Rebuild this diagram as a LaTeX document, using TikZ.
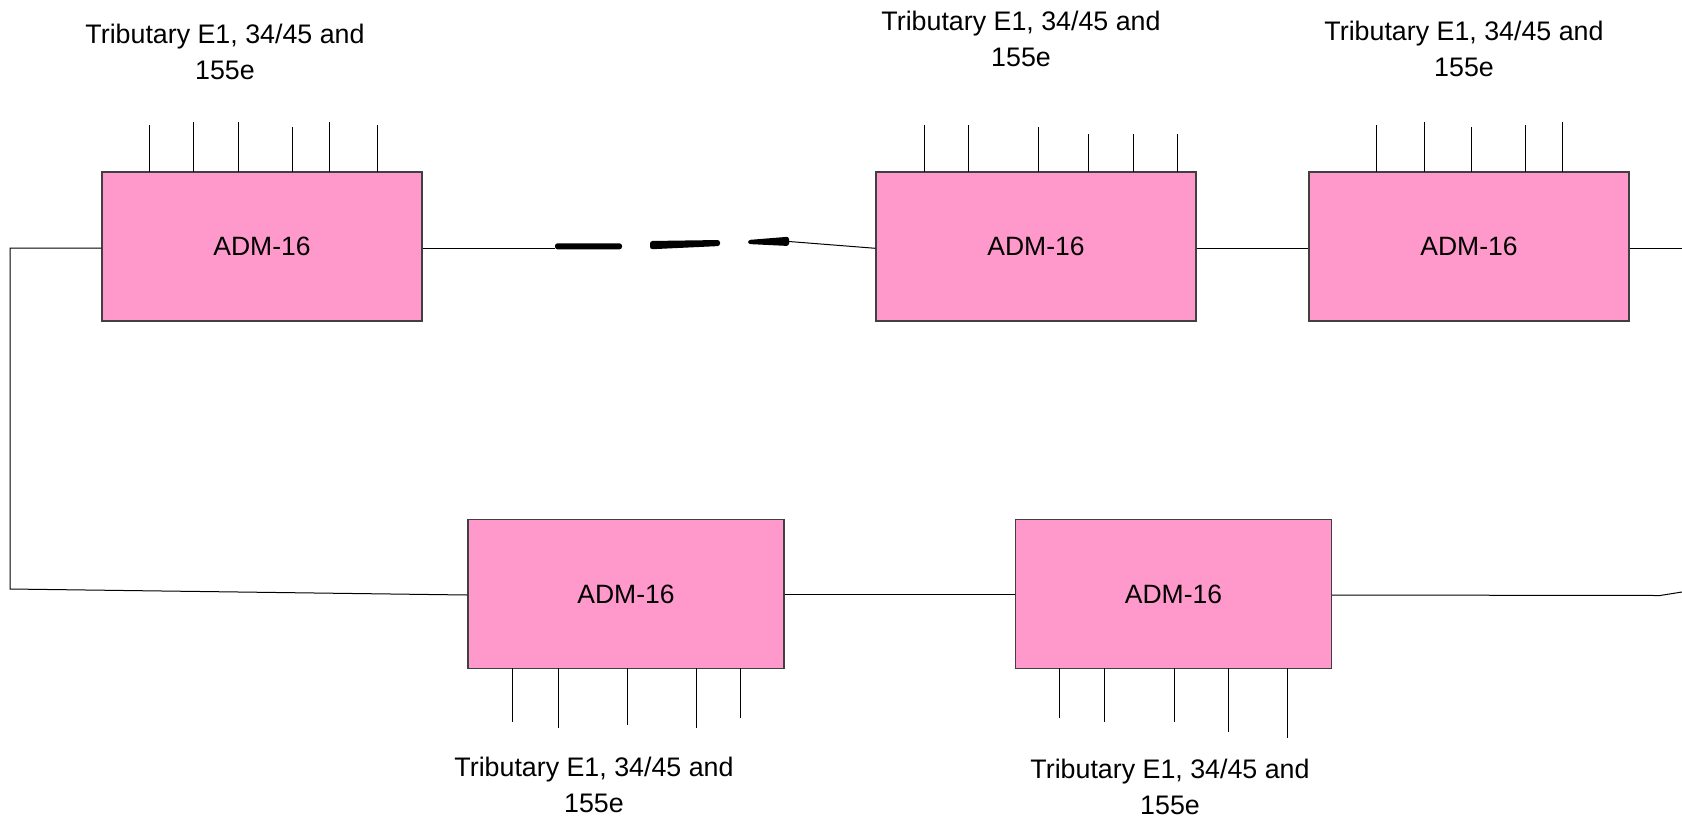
\documentclass[tikz,border=0pt]{standalone}
\usepackage{fontspec}
\setmainfont{Liberation Sans}
\definecolor{admpink}{HTML}{FF99CC}
\definecolor{admedge}{HTML}{404040}
\begin{document}
\begin{tikzpicture}[x=1pt,y=-1pt,
  adm/.style={draw=admedge,line width=1.2pt,fill=admpink,inner sep=0pt,
    minimum width=320pt,minimum height=149pt,
    font=\fontsize{26.5}{30}\selectfont},
  admlow/.style={adm,minimum width=316pt},
  link/.style={draw=black,line width=1pt},
  trib/.style={draw=black,line width=0.9pt},
  triblabel/.style={anchor=base,inner sep=0pt,font=\fontsize{26.8}{36}\selectfont},
  heavy/.style={fill=black,rounded corners=2.5pt}]
\useasboundingbox (0,0) rectangle (1682,820);

% ring nodes
\node[adm] (a1) at (262,246.5) {ADM-16};
\node[adm] (a2) at (1036,246.5) {ADM-16};
\node[adm] (a3) at (1469,246.5) {ADM-16};
\node[admlow] (b1) at (626,594) {ADM-16};
\node[admlow] (b2) at (1173.5,594) {ADM-16};

% tributary labels
\newcommand{\tribtext}{\begin{tabular}[t]{@{}c@{}}Tributary E1, 34/45 and\\155e\end{tabular}}
\node[triblabel] (t1) at (225,43) {\tribtext};
\node[triblabel] (t2) at (1021,30) {\tribtext};
\node[triblabel] (t3) at (1464,40) {\tribtext};
\node[triblabel] (t4) at (594,776) {\tribtext};
\node[triblabel] (t5) at (1170,778) {\tribtext};

% tributary ports, top row
\foreach \x/\y in {149/125,193/122,238/122,292/127,329/122,377/125}
  \draw[trib] (\x,\y) -- (\x,172);
\foreach \x/\y in {924/125,968/125,1038/127,1088/134,1133/134,1177/134}
  \draw[trib] (\x,\y) -- (\x,172);
\foreach \x/\y in {1376/125,1424/122,1471/127,1525/125,1562/122}
  \draw[trib] (\x,\y) -- (\x,172);
% tributary ports, bottom row
\foreach \x/\y in {512/722,558/728,627/725,696/728,740/718}
  \draw[trib] (\x,668) -- (\x,\y);
\foreach \x/\y in {1059/718,1104/722,1174/722,1228/732,1287/738}
  \draw[trib] (\x,668) -- (\x,\y);

% ring links
\coordinate (gapL) at (555,248);
\coordinate (gapR) at (789,241.5);
\draw[link] (a1.east |- 0,248) -- (gapL);
\fill[heavy] (555,243.3) -- (622,243.3) -- (622,249.3) -- (555,249.3) -- cycle;
\fill[heavy] (650,241) -- (720,240) -- (720,246) -- (650,249.3) -- cycle;
\fill[heavy] (748,240) -- (789,236.7) -- (789,246) -- (748,244) -- cycle;
\draw[link] (gapR) -- (a2.west |- 0,248.3);
\draw[link] (a2.east |- 0,248) -- (a3.west |- 0,248);
\coordinate (outR) at (1682,248);
\draw[link] (a3.east |- 0,248) -- (outR);

\coordinate (cTL) at (10,248);
\coordinate (cBL) at (10,589);
\draw[link] (a1.west |- 0,248) -- (cTL) -- (cBL) -- (b1.west |- 0,595);
\draw[link] (b1.east |- 0,594) -- (b2.west |- 0,594);
\coordinate (kink) at (1660,595.5);
\coordinate (outB) at (1682,592);
\draw[link] (b2.east |- 0,595) -- (kink) -- (outB);
\end{tikzpicture}
\end{document}
